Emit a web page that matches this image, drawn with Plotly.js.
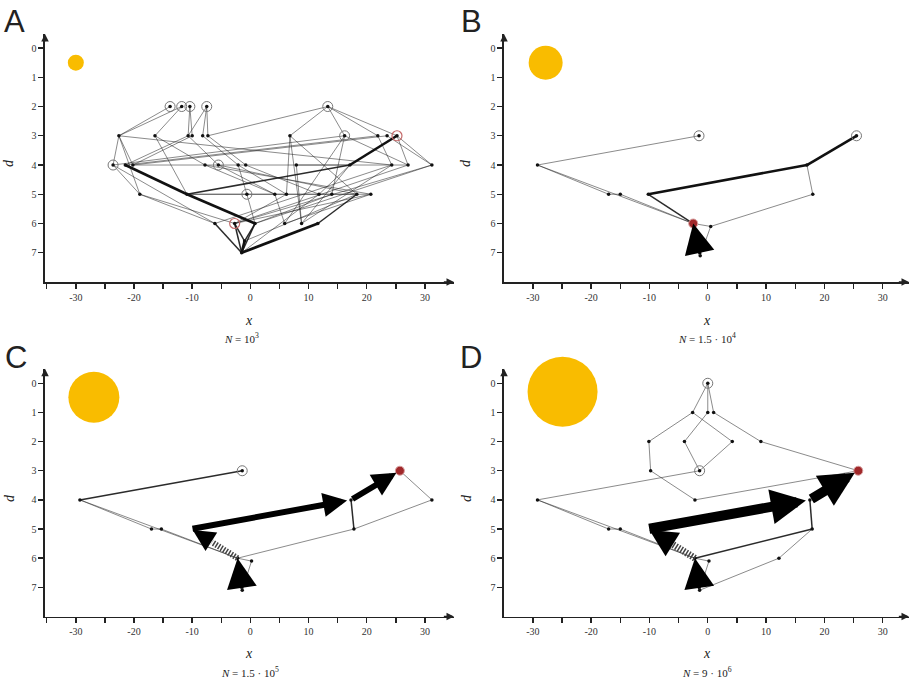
<!DOCTYPE html>
<html><head><meta charset="utf-8">
<script src="https://cdn.plot.ly/plotly-3.0.1.min.js"></script>
<style>html,body{margin:0;padding:0;background:#fff}#chart{width:909px;height:683px}</style>
</head><body><div id="chart"></div>
<script>
// ---------------- DATA ----------------
// x ticks / labels
const xTickVals = [-35,-30,-25,-20,-15,-10,-5,0,5,10,15,20,25,30];
const xTickText = ['','-30','','-20','','-10','','0','','10','','20','','30'];
const dTickVals = [0,1,2,3,4,5,6,7];
const panelLetters = ['A','B','C','D'];
const panelN = ['<i>N</i> = 10<sup>3</sup>','<i>N</i> = 1.5 · 10<sup>4</sup>','<i>N</i> = 1.5 · 10<sup>5</sup>','<i>N</i> = 9 · 10<sup>6</sup>'];
// sun (resource) positions
const sunX = [-30, -27.8, -26.9, -24.9];
const sunD = [0.5, 0.5, 0.48, 0.29];

// Panel A
const aX = [-13.8,-11.8,-10.4,-7.5,13.3,-22.6,-16.4,-10.7,-10.0,-8.2,-7.3,6.8,16.2,21.9,23.5,25.2,-23.6,-21.5,-20.2,-7.8,-5.5,-2.1,-0.8,7.9,17.1,24.3,27.1,31.2,-19,-10.9,-0.6,4.2,6.2,11.8,14,18.3,20.7,-6.1,-2.7,0.8,5.9,8.8,11.6,-1.5,-1.0];
const aD = [2,2,2,2,2,3,3,3,3,3,3,3,3,3,3,3,4,4,4,4,4,4,4,4,4,4,4,4,5,5,5,5,5,5,5,5,5,6,6,6,6,6,6,7,6.6];
const aFrom = [0,1,1,2,3,3,3,2,5,5,5,16,6,7,9,10,8,7,10,17,18,16,17,29,29,24,28,16,37,38,39,44,38,39,43,42,4,4,4,4,11,11,11,12,12,12,15,15,14,13,27,27,26,25,21,19,20,22,23,23,29,29,30,30,31,34,36,24,24,28,33,35,32,6,5,18,19,20,36,25];
const aTo   = [5,5,6,7,7,9,10,8,16,18,28,28,19,20,21,22,18,17,4,13,14,12,29,39,24,15,37,37,43,43,43,43,44,44,42,35,11,13,15,12,32,41,35,34,40,26,27,26,27,25,39,38,38,37,32,31,31,33,24,41,36,35,39,21,40,39,38,41,33,38,43,44,38,29,25,26,36,35,40,41];
const aFlow = [1,1,1,1,1,1,1,1,1,1,1,1,1,1,1,1,1,1,1,1,1,1,3,3,2,3,1,1,2,2,2,3,2,2,3,2,1,1,1,1,1,1,1,1,1,1,1,1,1,1,1,1,1,1,1,1,1,1,1,1,1,1,1,1,1,1,1,1,1,1,1,1,1,1,1,1,1,1,1,1];
const aOpen = [0,1,2,3,4,12,16,20,30];
const aTarget = [15,38];

// Panel B
const bX = [-1.5,-29.2,-17,-15,-10.2,-2.5,0.5,17,18,25.5,-1.3];
const bD = [3,4,5,5,5,6,6.1,4,5,3,7.1];
const bFrom = [0,1,2,3,1,4,4,7,7,8,6,6];
const bTo   = [1,2,3,5,5,5,7,9,8,6,5,10];
const bFlow = [1,1,1,1,1,2,3,3,1,1,1,1];
const bOpen = [0,9];
const bRed = [5];
const bHeadFrom = [10];
const bHeadTo = [5];

// Panel C
const cX = [-1.4,-29.3,-17,-15.3,-10.2,-2.2,0.2,17.3,17.8,31.2,25.7,-1.4];
const cD = [3,4,5,5,5,6,6.1,4,5,4,3,7.1];
const cFrom = [0,1,2,3,1,5,8,8,9,6,5];
const cTo   = [1,2,3,5,5,8,7,9,10,11,6];
const cFlow = [2,1,1,1,1,1,2,1,1,1,1];
const cOpen = [0];
const cRed = [10];
const cBigFrom = [4,7];
const cBigTo = [7,10];
const cHatchFrom = [5];
const cHatchTo = [4];
const cHeadFrom = [11];
const cHeadTo = [5];

// Panel D
const dX = [0,-2.6,0,1,-10.1,-4,4.2,9.1,-9.8,-1.4,-29.2,-2.2,-17,-15,-10.3,17.9,-2.2,0.2,12.2,-1.4,17.5,25.8];
const dD = [0,1,1,1,2,2,2,2,3,3,4,4,5,5,5,5,6,6.1,6,7.1,4,3];
const dFrom = [0,0,0,1,1,2,3,5,6,4,8,11,7,9,10,12,13,10,16,15,15,18,17,16];
const dTo   = [1,2,3,4,6,5,7,9,9,8,11,21,21,10,12,13,16,16,15,20,18,19,19,17];
const dFlow = [1,1,1,1,1,1,1,1,1,1,1,1,1,1,1,1,1,1,2,2,1,1,1,1];
const dOpen = [0,9];
const dRed = [21];
const dBigFrom = [14,20];
const dBigTo = [20,21];
const dHatchFrom = [16];
const dHatchTo = [14];
const dHeadFrom = [19];
const dHeadTo = [16];

// ---------------- BUILD ----------------
const W = 909, H = 683;
const FLOW_W = {1:0.8, 2:1.5, 3:2.6};
const FLOW_C = {1:'rgba(30,30,30,0.65)', 2:'rgba(20,20,20,0.9)', 3:'#111'};
const traces = [];
const annotations = [];

function addPanel(k, X, D, from, to, flow, openIdx, redIdx, targetIdx) {
  const xa = k===0 ? 'x' : 'x'+(k+1);
  const ya = k===0 ? 'y' : 'y'+(k+1);
  const sunSize = [16, 34, 51, 70][k];
  traces.push({x:[sunX[k]], y:[sunD[k]], xaxis:xa, yaxis:ya, mode:'markers', type:'scatter', cliponaxis:false,
    marker:{size:sunSize, color:'#F9BC00', line:{width:0}}, hoverinfo:'skip'});
  [1,2,3].forEach(f => {
    const xs=[], ys=[];
    for (let i=0;i<from.length;i++) if (flow[i]===f) {
      xs.push(X[from[i]], X[to[i]], null); ys.push(D[from[i]], D[to[i]], null);
    }
    if (xs.length) traces.push({x:xs, y:ys, xaxis:xa, yaxis:ya, mode:'lines', type:'scatter',
      line:{width:FLOW_W[f], color:FLOW_C[f]}, hoverinfo:'skip'});
  });
  const used = new Set(from.concat(to));
  const nx=[], nd=[];
  used.forEach(i => { nx.push(X[i]); nd.push(D[i]); });
  traces.push({x:nx, y:nd, xaxis:xa, yaxis:ya, mode:'markers', type:'scatter',
    marker:{size:3.5, color:'#111'}, hoverinfo:'skip'});
  traces.push({x:openIdx.map(i=>X[i]), y:openIdx.map(i=>D[i]), xaxis:xa, yaxis:ya, mode:'markers', type:'scatter',
    marker:{size:10, symbol:'circle-open', color:'#777', line:{width:1}}, hoverinfo:'skip'});
  if (targetIdx) traces.push({x:targetIdx.map(i=>X[i]), y:targetIdx.map(i=>D[i]), xaxis:xa, yaxis:ya, mode:'markers', type:'scatter',
    marker:{size:10, symbol:'circle-open', color:'#c46a6a', line:{width:1.2}}, hoverinfo:'skip'});
  if (redIdx) traces.push({x:redIdx.map(i=>X[i]), y:redIdx.map(i=>D[i]), xaxis:xa, yaxis:ya, mode:'markers', type:'scatter',
    marker:{size:9, color:'#A0282A', line:{width:1, color:'#d8a0a0'}}, hoverinfo:'skip'});
}

function addArrow(k, X, D, f, t, width, size, standoff) {
  const xa = k===0 ? 'x' : 'x'+(k+1);
  const ya = k===0 ? 'y' : 'y'+(k+1);
  annotations.push({x:X[t], y:D[t], ax:X[f], ay:D[f], xref:xa, yref:ya, axref:xa, ayref:ya,
    text:'', showarrow:true, arrowhead:2, arrowsize:size, arrowwidth:width, arrowcolor:'#000', standoff:standoff||0});
}
function addHatched(k, X, D, f, t, headW, hatchW) {
  const xa = k===0 ? 'x' : 'x'+(k+1);
  const ya = k===0 ? 'y' : 'y'+(k+1);
  const frac = 0.55;
  const mx = X[f] + (X[t]-X[f])*frac, my = D[f] + (D[t]-D[f])*frac;
  traces.push({x:[X[f], mx], y:[D[f], my], xaxis:xa, yaxis:ya, mode:'lines', type:'scatter',
    line:{width:hatchW, color:'#444', dash:'1.5px,1.5px'}, hoverinfo:'skip'});
  annotations.push({x:X[t], y:D[t], ax:mx, ay:my, xref:xa, yref:ya, axref:xa, ayref:ya,
    text:'', showarrow:true, arrowhead:2, arrowsize:1.1, arrowwidth:headW, arrowcolor:'#000', standoff:2});
}

addPanel(0, aX, aD, aFrom, aTo, aFlow, aOpen, null, aTarget);
addPanel(1, bX, bD, bFrom, bTo, bFlow, bOpen, bRed);
addPanel(2, cX, cD, cFrom, cTo, cFlow, cOpen, cRed);
addPanel(3, dX, dD, dFrom, dTo, dFlow, dOpen, dRed);

addArrow(1, bX, bD, bHeadFrom[0], bHeadTo[0], 3, 2, 0);
cBigFrom.forEach((f,i)=>addArrow(2, cX, cD, f, cBigTo[i], 6, 0.8, 4));
addHatched(2, cX, cD, cHatchFrom[0], cHatchTo[0], 4, 6);
addArrow(2, cX, cD, cHeadFrom[0], cHeadTo[0], 3, 2, 0);
dBigFrom.forEach((f,i)=>addArrow(3, dX, dD, f, dBigTo[i], 10, 0.7, 4));
addHatched(3, dX, dD, dHatchFrom[0], dHatchTo[0], 5, 7);
addArrow(3, dX, dD, dHeadFrom[0], dHeadTo[0], 3, 2, 0);

// ---------------- LAYOUT ----------------
const xDomL = [45/W, 454/W], xDomR = [504/W, 1];
const yDomT = [1-282/H, 1-34/H], yDomB = [1-616.5/H, 1-368.7/H];
const xRngL = [-35.3, 35.0], xRngR = [-34.94, 34.5];
const yRngT = [8, -0.48], yRngB = [8, -0.5];
const tickFont = {family:'Liberation Serif, DejaVu Serif, serif', size:10, color:'#333'};

function xAxis(dom, rng, anchor) {
  return {domain:dom, range:rng, anchor:anchor, showgrid:false, zeroline:false, showline:true,
    linecolor:'#222', linewidth:1.6, ticks:'outside', ticklen:5, tickwidth:1.4, tickcolor:'#222',
    tickmode:'array', tickvals:xTickVals, ticktext:xTickText, tickfont:tickFont, fixedrange:true};
}
function yAxis(dom, rng, anchor) {
  return {domain:dom, range:rng, anchor:anchor, showgrid:false, zeroline:false, showline:true,
    linecolor:'#222', linewidth:1.6, ticks:'outside', ticklen:5, tickwidth:1.4, tickcolor:'#222',
    tickmode:'array', tickvals:dTickVals, ticktext:dTickVals.map(String), tickfont:tickFont, fixedrange:true};
}

const xs = [xAxis(xDomL,xRngL,'y'), xAxis(xDomR,xRngR,'y2'), xAxis(xDomL,xRngL,'y3'), xAxis(xDomR,xRngR,'y4')];
const ys = [yAxis(yDomT,yRngT,'x'), yAxis(yDomT,yRngT,'x2'), yAxis(yDomB,yRngB,'x3'), yAxis(yDomB,yRngB,'x4')];

const xr = [xRngL, xRngR, xRngL, xRngR];
const yr = [yRngT, yRngT, yRngB, yRngB];
for (let k=0;k<4;k++) {
  const xa = k===0 ? 'x' : 'x'+(k+1);
  const ya = k===0 ? 'y' : 'y'+(k+1);
  annotations.push({x:xr[k][1], y:yr[k][0], ax:xr[k][1]-2, ay:yr[k][0], xref:xa, yref:ya, axref:xa, ayref:ya,
    text:'', showarrow:true, arrowhead:2, arrowsize:1, arrowwidth:1.5, arrowcolor:'#222'});
  annotations.push({x:xr[k][0], y:yr[k][1], ax:xr[k][0], ay:yr[k][1]+0.3, xref:xa, yref:ya, axref:xa, ayref:ya,
    text:'', showarrow:true, arrowhead:2, arrowsize:1, arrowwidth:1.5, arrowcolor:'#222'});
}

const letterPos = [[15,22],[471,22],[16,357],[471,357]];
const xLabPos = [[249,320],[707,320],[249,653],[707,653]];
const dLabPos = [[9,163],[466,163],[9,498],[466,498]];
const nPos = [[242,338],[707,338],[250,672],[707,672]];
for (let k=0;k<4;k++) {
  annotations.push({x:letterPos[k][0]/W, y:1-letterPos[k][1]/H, xref:'paper', yref:'paper', text:panelLetters[k],
    showarrow:false, font:{family:'Liberation Sans, Arial, sans-serif', size:31, color:'#222'}, xanchor:'center', yanchor:'middle'});
  annotations.push({x:xLabPos[k][0]/W, y:1-xLabPos[k][1]/H, xref:'paper', yref:'paper', text:'<i>x</i>',
    showarrow:false, font:{family:'Liberation Serif, DejaVu Serif, serif', size:14, color:'#222'}, xanchor:'center', yanchor:'middle'});
  annotations.push({x:dLabPos[k][0]/W, y:1-dLabPos[k][1]/H, xref:'paper', yref:'paper', text:'<i>d</i>', textangle:-90,
    showarrow:false, font:{family:'Liberation Serif, DejaVu Serif, serif', size:14, color:'#222'}, xanchor:'center', yanchor:'middle'});
  annotations.push({x:nPos[k][0]/W, y:1-nPos[k][1]/H, xref:'paper', yref:'paper', text:panelN[k],
    showarrow:false, font:{family:'Liberation Serif, DejaVu Serif, serif', size:11, color:'#222'}, xanchor:'center', yanchor:'middle'});
}

const layout = {
  width:W, height:H, margin:{l:0,r:0,t:0,b:0}, paper_bgcolor:'#fff', plot_bgcolor:'rgba(0,0,0,0)',
  showlegend:false, annotations:annotations,
  xaxis:xs[0], xaxis2:xs[1], xaxis3:xs[2], xaxis4:xs[3],
  yaxis:ys[0], yaxis2:ys[1], yaxis3:ys[2], yaxis4:ys[3]
};
Plotly.newPlot('chart', traces, layout, {displayModeBar:false, staticPlot:true});
</script></body></html>
